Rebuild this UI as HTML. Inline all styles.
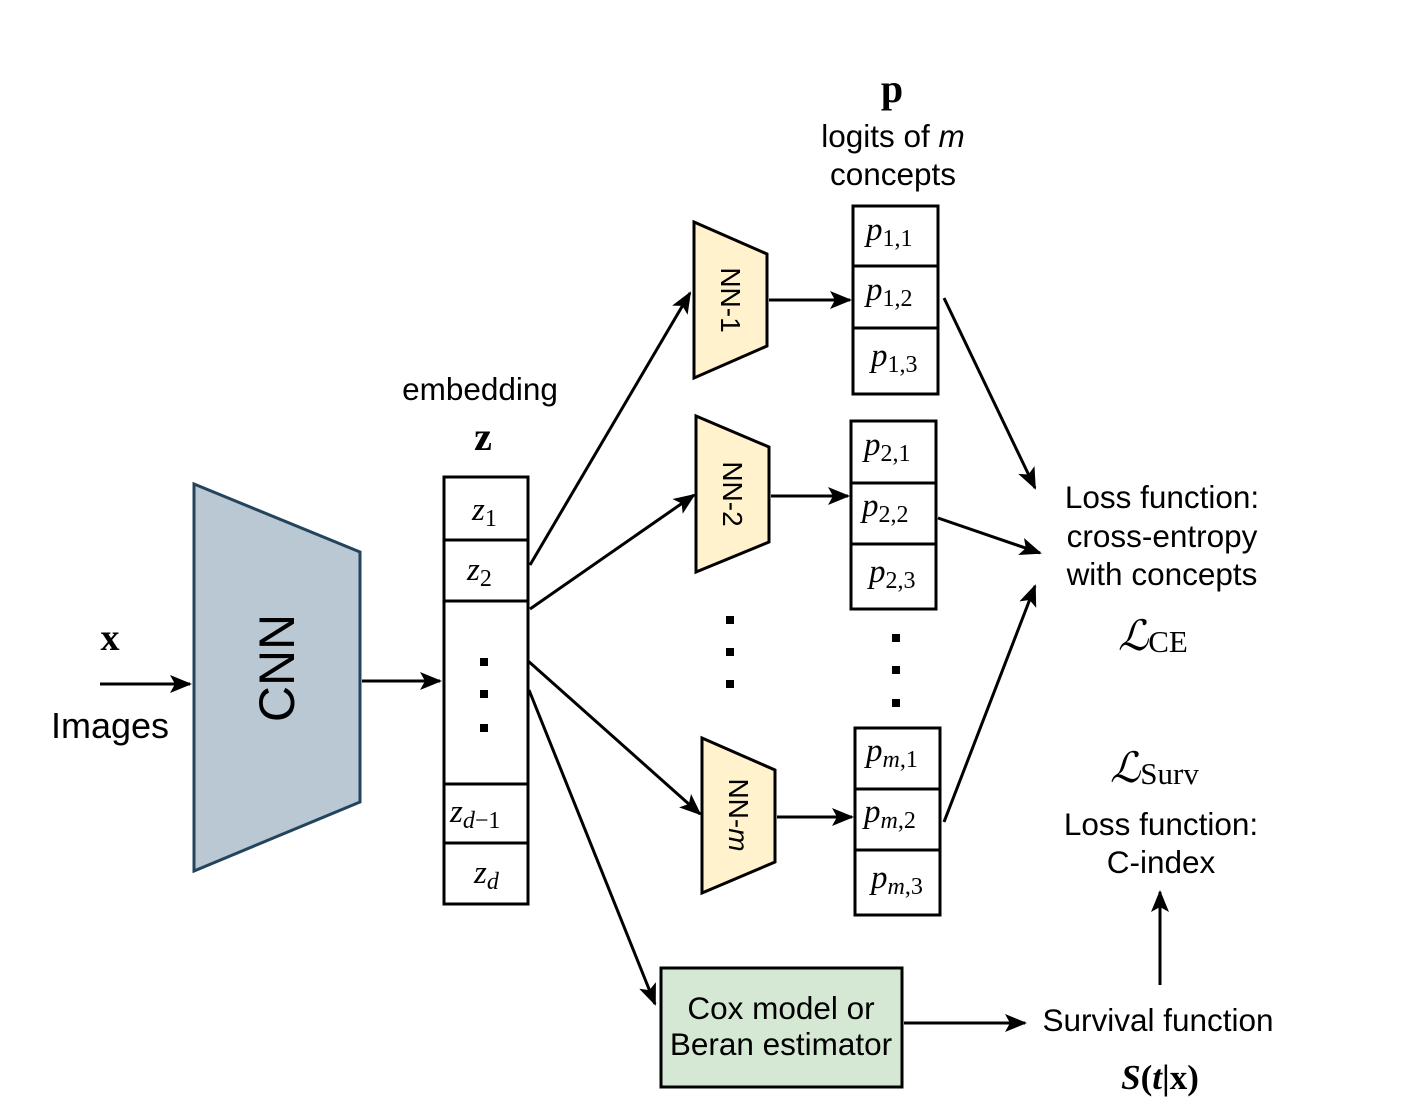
<!DOCTYPE html>
<html><head><meta charset="utf-8"><style>
html,body{margin:0;padding:0;background:#fff;}
svg{display:block;}
.s{font-family:"Liberation Sans",sans-serif;font-size:31.5px;fill:#000;}
.m{font-family:"Liberation Serif",serif;font-style:italic;font-size:33px;fill:#000;}
.b{font-family:"Liberation Serif",serif;font-weight:bold;font-size:40px;fill:#000;}
.sub{font-style:normal;font-size:24px;}
</style></head><body>
<svg width="1410" height="1106" viewBox="0 0 1410 1106" xmlns="http://www.w3.org/2000/svg">
<defs>
<marker id="ah" markerWidth="22" markerHeight="22" refX="20" refY="11" orient="auto" markerUnits="userSpaceOnUse" viewBox="0 0 22 22"><path d="M0,2 L22,11 L0,20 L5,11 Z" fill="#000"/></marker></defs>
<g stroke="#000" stroke-width="3" fill="none">
<line x1="100" y1="684" x2="190" y2="684" marker-end="url(#ah)"/>
<line x1="362" y1="681" x2="440" y2="681" marker-end="url(#ah)"/>
<line x1="530" y1="565" x2="690" y2="293" marker-end="url(#ah)"/>
<line x1="530" y1="609" x2="694" y2="495" marker-end="url(#ah)"/>
<line x1="527" y1="660" x2="700" y2="814" marker-end="url(#ah)"/>
<line x1="529" y1="690" x2="655" y2="1004" marker-end="url(#ah)"/>
<line x1="769" y1="300" x2="850" y2="300" marker-end="url(#ah)"/>
<line x1="771" y1="496" x2="848" y2="496" marker-end="url(#ah)"/>
<line x1="777" y1="817" x2="852" y2="817" marker-end="url(#ah)"/>
<line x1="944" y1="298" x2="1035" y2="488" marker-end="url(#ah)"/>
<line x1="938" y1="518" x2="1040" y2="553" marker-end="url(#ah)"/>
<line x1="944" y1="822" x2="1035" y2="586" marker-end="url(#ah)"/>
<line x1="904" y1="1023" x2="1025" y2="1023" marker-end="url(#ah)"/>
<line x1="1160" y1="985" x2="1160" y2="892" marker-end="url(#ah)"/>
</g>
<polygon points="194,484 360,552 360,802 194,871" fill="#bac8d3" stroke="#23445d" stroke-width="3"/>
<text transform="translate(294,668) rotate(-90)" text-anchor="middle" style="font-family:'Liberation Sans',sans-serif;font-size:50px">CNN</text>
<text x="110" y="650" text-anchor="middle" class="b" style="font-size:38px">x</text>
<text x="110" y="738" text-anchor="middle" class="s" style="font-size:36px">Images</text>
<g fill="#fff" stroke="#000" stroke-width="3">
<rect x="444" y="477" width="84" height="427"/>
<line x1="444" y1="540" x2="528" y2="540"/><line x1="444" y1="601" x2="528" y2="601"/>
<line x1="444" y1="784" x2="528" y2="784"/><line x1="444" y1="843" x2="528" y2="843"/>
</g>
<text x="480" y="400" text-anchor="middle" class="s">embedding</text>
<text x="483" y="450" text-anchor="middle" class="b">z</text>
<text x="472" y="520" class="m">z<tspan class="sub" dy="6">1</tspan></text>
<text x="467" y="580" class="m">z<tspan class="sub" dy="6">2</tspan></text>
<text x="450" y="822" class="m">z<tspan class="sub" dy="6"><tspan style="font-style:italic">d</tspan>−1</tspan></text>
<text x="474" y="883" class="m">z<tspan class="sub" dy="6" style="font-style:italic">d</tspan></text>
<g fill="#000">
<rect x="480" y="658" width="8" height="8"/><rect x="480" y="690" width="8" height="8"/><rect x="480" y="724" width="8" height="8"/>
<rect x="726" y="616" width="8" height="8"/><rect x="726" y="648" width="8" height="8"/><rect x="726" y="680" width="8" height="8"/>
<rect x="892" y="634" width="8" height="8"/><rect x="892" y="666" width="8" height="8"/><rect x="892" y="699" width="8" height="8"/>
</g>
<g fill="#fff2cc" stroke="#000" stroke-width="3">
<polygon points="694,222 767,254 767,346 694,378"/>
<polygon points="696,416 769,447 769,542 696,572"/>
<polygon points="702,738 775,770 775,862 702,893"/>
</g>
<text transform="translate(721,300) rotate(90)" text-anchor="middle" class="s" style="font-size:28px">NN-1</text>
<text transform="translate(723,494) rotate(90)" text-anchor="middle" class="s" style="font-size:28px">NN-2</text>
<text transform="translate(729,815) rotate(90)" text-anchor="middle" class="s" style="font-size:28px">NN-<tspan style="font-style:italic">m</tspan></text>
<g fill="#fff" stroke="#000" stroke-width="3">
<rect x="853" y="206" width="85" height="188"/><line x1="853" y1="266" x2="938" y2="266"/><line x1="853" y1="328" x2="938" y2="328"/>
<rect x="851" y="421" width="85" height="188"/><line x1="851" y1="483" x2="936" y2="483"/><line x1="851" y1="544" x2="936" y2="544"/>
<rect x="855" y="728" width="85" height="187"/><line x1="855" y1="789" x2="940" y2="789"/><line x1="855" y1="850" x2="940" y2="850"/>
</g>
<text x="866" y="240" class="m">p<tspan class="sub" dy="6">1,1</tspan></text>
<text x="866" y="300" class="m">p<tspan class="sub" dy="6">1,2</tspan></text>
<text x="871" y="366" class="m">p<tspan class="sub" dy="6">1,3</tspan></text>
<text x="864" y="455" class="m">p<tspan class="sub" dy="6">2,1</tspan></text>
<text x="862" y="516" class="m">p<tspan class="sub" dy="6">2,2</tspan></text>
<text x="869" y="582" class="m">p<tspan class="sub" dy="6">2,3</tspan></text>
<text x="866" y="761" class="m">p<tspan class="sub" dy="6"><tspan style="font-style:italic">m</tspan>,1</tspan></text>
<text x="864" y="822" class="m">p<tspan class="sub" dy="6"><tspan style="font-style:italic">m</tspan>,2</tspan></text>
<text x="871" y="888" class="m">p<tspan class="sub" dy="6"><tspan style="font-style:italic">m</tspan>,3</tspan></text>
<text x="892" y="102" text-anchor="middle" class="b">p</text>
<text x="893" y="147" text-anchor="middle" class="s">logits of <tspan style="font-style:italic">m</tspan></text>
<text x="893" y="185" text-anchor="middle" class="s">concepts</text>
<text x="1162" y="508" text-anchor="middle" class="s">Loss function:</text>
<text x="1162" y="547" text-anchor="middle" class="s">cross-entropy</text>
<text x="1162" y="585" text-anchor="middle" class="s">with concepts</text>
<text x="1118" y="650" class="m" style="font-size:42px">ℒ<tspan class="sub" style="font-size:31px" dy="2">CE</tspan></text>
<text x="1110" y="782" class="m" style="font-size:42px">ℒ<tspan class="sub" style="font-size:31px" dy="2">Surv</tspan></text>
<text x="1161" y="835" text-anchor="middle" class="s">Loss function:</text>
<text x="1161" y="873" text-anchor="middle" class="s">C-index</text>
<rect x="661" y="968" width="241" height="119" fill="#d5e8d4" stroke="#000" stroke-width="3"/>
<text x="781" y="1019" text-anchor="middle" class="s">Cox model or</text>
<text x="781" y="1055" text-anchor="middle" class="s">Beran estimator</text>
<text x="1158" y="1031" text-anchor="middle" class="s">Survival function</text>
<text x="1160" y="1089" text-anchor="middle" class="m" style="font-weight:bold;font-size:35px">S<tspan style="font-style:normal">(</tspan>t<tspan style="font-style:normal">|x)</tspan></text>
</svg>
</body></html>
